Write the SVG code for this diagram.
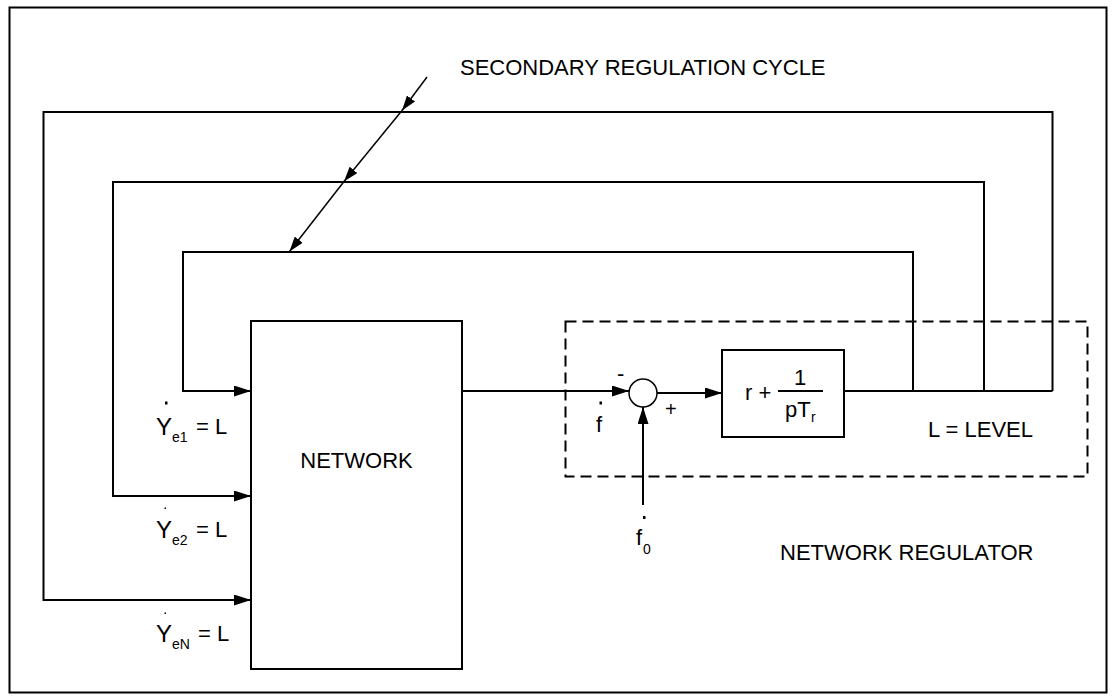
<svg xmlns="http://www.w3.org/2000/svg" width="1115" height="700" viewBox="0 0 1115 700">
  <style>
    .ln { fill: none; stroke: #000; stroke-width: 2; }
    .thin { fill: none; stroke: #000; stroke-width: 1.5; }
    .dash { fill: none; stroke: #000; stroke-width: 2; stroke-dasharray: 11 6; }
    .box { fill: #fff; stroke: #000; stroke-width: 2; }
    text { font-family: "Liberation Sans", Arial, sans-serif; fill: #000; }
    .lbl { font-size: 22px; }
    .big { font-size: 24px; }
    .sub { font-size: 14px; }
  </style>
  <defs>
    <marker id="ah" viewBox="0 0 17 11" refX="17" refY="5.5" markerWidth="17" markerHeight="11" markerUnits="userSpaceOnUse" orient="auto">
      <path d="M0,0 L17,5.5 L0,11 Z" fill="#000"/>
    </marker>
    <marker id="ahs" viewBox="0 0 15 10" refX="15" refY="5" markerWidth="15" markerHeight="10" markerUnits="userSpaceOnUse" orient="auto">
      <path d="M0,0 L15,5 L0,10 Z" fill="#000"/>
    </marker>
  </defs>

  <!-- outer frame -->
  <rect x="9.5" y="7.5" width="1097" height="685" fill="#fff" stroke="#000" stroke-width="2"/>

  <!-- regulator boundary -->
  <rect id="regulator-boundary" x="565.5" y="321.5" width="522" height="155" class="dash"/>

  <g id="connectors">
    <!-- feedback loops from level output to network inputs -->
    <path class="ln" d="M913,391 V252 H183 V391 H251" marker-end="url(#ah)"/>
    <path class="ln" d="M984,391 V182 H113 V496 H251" marker-end="url(#ah)"/>
    <path class="ln" d="M1052.5,391 V112 H43.5 V600 H251" marker-end="url(#ah)"/>
    <!-- network output frequency to summing point -->
    <path class="ln" d="M462,391 H629" marker-end="url(#ah)"/>
    <!-- summing point to regulator block -->
    <path class="ln" d="M657,393 H722" marker-end="url(#ah)"/>
    <!-- setpoint into summing point -->
    <path class="ln" d="M643,505 V407" marker-end="url(#ah)"/>
    <!-- regulator output (level) -->
    <path class="ln" d="M844,391 H1052.5"/>
    <!-- secondary regulation cycle pointer -->
    <path class="thin" d="M427,77 L402,110.5" marker-end="url(#ahs)"/>
    <path class="thin" d="M402,110.5 L344,181.5" marker-end="url(#ahs)"/>
    <path class="thin" d="M344,181.5 L289.5,251.5" marker-end="url(#ahs)"/>
  </g>

  <g id="network">
    <rect class="box" x="251" y="321" width="211" height="348"/>
    <text class="lbl" x="356.5" y="468" text-anchor="middle">NETWORK</text>
  </g>

  <g id="summing-point">
    <circle cx="643" cy="393" r="14" fill="#fff" stroke="#000" stroke-width="1.5"/>
    <text class="lbl" x="617" y="381">-</text>
    <text style="font-size:20px" x="665" y="416">+</text>
  </g>

  <g id="regulator-block">
    <rect class="box" x="722" y="350" width="122" height="87"/>
    <text class="lbl" x="745" y="400">r +</text>
    <text class="lbl" x="800" y="385" text-anchor="middle">1</text>
    <line x1="778" y1="391" x2="823" y2="391" stroke="#000" stroke-width="2"/>
    <text class="lbl" x="785" y="417">pT</text>
    <text class="sub" x="811" y="422">r</text>
  </g>

  <g id="labels">
    <text class="lbl" x="460" y="75">SECONDARY REGULATION CYCLE</text>
    <text class="lbl" x="928" y="437">L = LEVEL</text>
    <text class="lbl" x="780" y="560">NETWORK REGULATOR</text>

    <!-- frequency -->
    <rect x="599.5" y="401.5" width="2.5" height="3"/>
    <text class="lbl" x="596" y="432">f</text>
    <!-- frequency setpoint -->
    <rect x="643" y="516" width="2.5" height="3"/>
    <text class="lbl" x="636" y="545">f</text>
    <text class="sub" x="643" y="554">0</text>

    <!-- input levels -->
    <rect x="165" y="401.5" width="2.5" height="3"/>
    <text class="big" x="156" y="435">Y</text>
    <text class="sub" x="172" y="442">e1</text>
    <text class="lbl" x="196" y="434">= L</text>

    <rect x="164.5" y="507.5" width="1.5" height="1.5"/>
    <text class="big" x="156" y="538">Y</text>
    <text class="sub" x="172" y="545">e2</text>
    <text class="lbl" x="196" y="537">= L</text>

    <rect x="164.5" y="612.5" width="1.5" height="1.5"/>
    <text class="big" x="156" y="642">Y</text>
    <text class="sub" x="172" y="649">eN</text>
    <text class="lbl" x="198" y="641">= L</text>
  </g>
</svg>
